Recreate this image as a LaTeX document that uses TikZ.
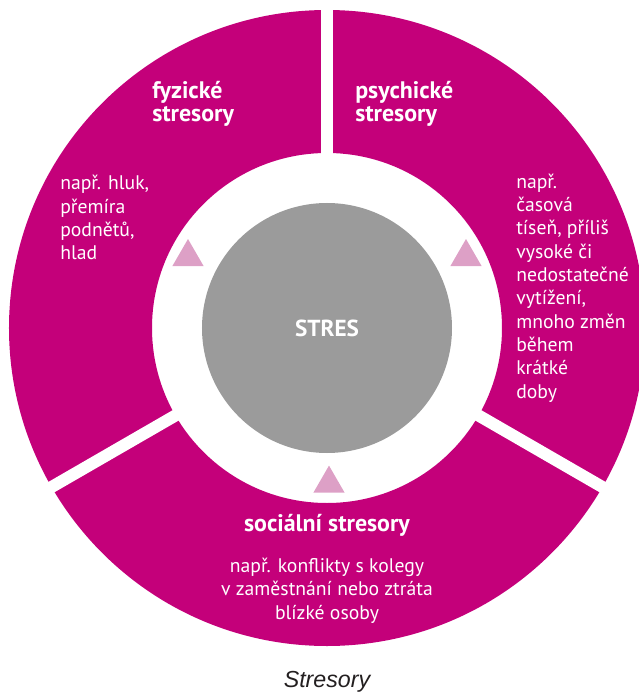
\documentclass[tikz,border=0pt]{standalone}
\usepackage{fontspec}
\setmainfont{PT Sans}
\newfontfamily\popisekfont{Liberation Sans}
\usetikzlibrary{shapes.geometric}

\definecolor{purpura}{RGB}{196,0,122}
\definecolor{ruzova}{RGB}{221,160,198}
\definecolor{seda}{RGB}{155,155,155}
\definecolor{tmava}{RGB}{35,31,32}

\begin{document}
\begin{tikzpicture}[
		nadpis/.style={font=\bfseries\fontsize{17}{16.6}\selectfont, text=white, align=left, inner sep=0pt},
		popis/.style={font=\fontsize{14}{16.6}\selectfont, text=white, align=left, inner sep=0pt},
		trojuhelnik/.style={regular polygon, regular polygon sides=3, fill=ruzova, minimum size=0.9cm, inner sep=0pt}
	]
		\useasboundingbox (-8.175,-9.175) rectangle (7.8,8.2);
		\clip (-8.175,-9.175) rectangle (7.8,8.2);
		
		% Prstenec - tri segmenty
		\fill[purpura, even odd rule] (0,0) circle (7.95) (0,0) circle (4.375);
		\foreach \uhel in {90,210,330}
			\draw[white, line width=0.3cm] (\uhel:4) -- (\uhel:8.4);
		
		% Stred
		\node[circle, fill=seda, minimum size=6.25cm, text=white, font=\bfseries\fontsize{16.5}{18}\selectfont] (S) at (0,0) {STRES};
		
		% Trojuhelniky
		\node[trojuhelnik] (T1) at (-3.475,1.775) {};
		\node[trojuhelnik] (T2) at (3.475,1.775) {};
		\node[trojuhelnik] (T3) at (0.05,-3.89) {};
		
		% Fyzicke stresory
		\node[nadpis, anchor=west] (F) at (-4.375,5.61) {fyzické\\stresory};
		\node[popis, anchor=west] (Fp) at (-6.675,2.76) {např. hluk,\\přemíra\\podnětů,\\hlad};
		
		% Psychicke stresory
		\node[nadpis, anchor=west] (P) at (0.7,5.61) {psychické\\stresory};
		\node[popis, anchor=west] (Pp) at (4.725,1.0) {např.\\časová\\tíseň, příliš\\vysoké či\\nedostatečné\\vytížení,\\mnoho změn\\během\\krátké\\doby};
		
		% Socialni stresory
		\node[nadpis, align=center] (So) at (0,-4.925) {sociální stresory};
		\node[popis, align=center] (Sop) at (0,-6.57) {např. konflikty s kolegy\\v zaměstnání nebo ztráta\\blízké osoby};
		
		% Popisek
		\node[font=\popisekfont\itshape\fontsize{16.5}{18}\selectfont, text=tmava] (L) at (0,-8.85) {Stresory};
	\end{tikzpicture}
\end{document}
